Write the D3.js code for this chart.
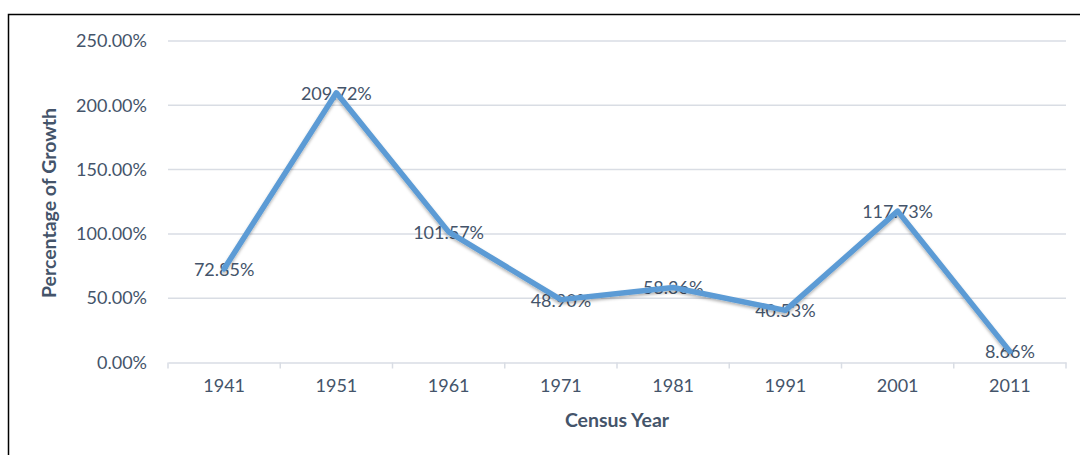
<!DOCTYPE html>
<html>
<head>
<meta charset="utf-8">
<script src="https://cdn.jsdelivr.net/npm/d3@7"></script>
<style>
  html, body { margin: 0; padding: 0; background: #fff; }
  svg { display: block; }
</style>
</head>
<body>
<div id="chart"></div>
<script>
// ── DONNÉES ───────────────────────────────────────────────────────────────
const years  = ['1941', '1951', '1961', '1971', '1981', '1991', '2001', '2011'];
const growth = [72.85, 209.72, 101.57, 48.90, 58.36, 40.53, 117.73, 8.66];
const yTicks = [0, 50, 100, 150, 200, 250];

const W = 1080, H = 455;
const M = { left: 168, right: 1066, top: 41, bottom: 362.5 };
const textCol = '#44546a';
const font = 'Lato, "Open Sans", sans-serif';

const svg = d3.select('#chart').append('svg').attr('width', W).attr('height', H);

// Cadre
svg.append('rect').attr('x', 8.5).attr('y', 14.5).attr('width', W).attr('height', H)
  .attr('fill', 'none').attr('stroke', '#000').attr('stroke-width', 1.5);

const x = d3.scaleBand().domain(years).range([M.left, M.right]);
const y = d3.scaleLinear().domain([0, 250]).range([M.bottom, M.top]);

// Grille
svg.append('g').selectAll('line').data(yTicks.filter(t => t > 0)).enter().append('line')
  .attr('x1', M.left).attr('x2', M.right)
  .attr('y1', d => y(d)).attr('y2', d => y(d))
  .attr('stroke', '#d9dde4').attr('stroke-width', 1.5);

// Axe Y (labels)
const yAxis = svg.append('g').attr('transform', `translate(${M.left},0)`)
  .call(d3.axisLeft(y).tickValues(yTicks).tickSize(0).tickPadding(21)
    .tickFormat(d => d.toFixed(2) + '%'));
yAxis.select('.domain').remove();
yAxis.selectAll('text').attr('fill', textCol).attr('font-size', '18px').attr('font-family', font);

// Axe X
const xAxis = svg.append('g').attr('transform', `translate(0,${M.bottom})`)
  .call(d3.axisBottom(x).tickSize(0).tickPadding(17));
xAxis.select('.domain').attr('stroke', '#d9dde4').attr('stroke-width', 1.5);
xAxis.selectAll('text').attr('fill', textCol).attr('font-size', '18px').attr('font-family', font);
// petites graduations entre catégories
svg.append('g').selectAll('line').data(years.concat(['end'])).enter().append('line')
  .attr('x1', (d, i) => M.left + i * x.bandwidth()).attr('x2', (d, i) => M.left + i * x.bandwidth())
  .attr('y1', M.bottom).attr('y2', M.bottom + 6)
  .attr('stroke', '#d9dde4').attr('stroke-width', 1.5);

// Titres d'axes
svg.append('text').attr('x', 617).attr('y', 427).attr('text-anchor', 'middle')
  .attr('fill', textCol).attr('font-size', '19.5px').attr('font-weight', '700').attr('font-family', font)
  .text('Census Year');
svg.append('text').attr('transform', 'translate(56,203) rotate(-90)').attr('text-anchor', 'middle')
  .attr('fill', textCol).attr('font-size', '19.5px').attr('font-weight', '700').attr('font-family', font)
  .text('Percentage of Growth');

// Étiquettes de données
svg.append('g').selectAll('text').data(growth).enter().append('text')
  .attr('x', (d, i) => x(years[i]) + x.bandwidth() / 2)
  .attr('y', d => y(d) + 7)
  .attr('text-anchor', 'middle')
  .attr('fill', textCol).attr('font-size', '18px').attr('font-family', font)
  .text(d => d.toFixed(2) + '%');

// Ombre + ligne
const defs = svg.append('defs');
const f = defs.append('filter').attr('id', 'shadow').attr('x', '-10%').attr('y', '-10%').attr('width', '120%').attr('height', '130%');
f.append('feDropShadow').attr('dx', 0).attr('dy', 2).attr('stdDeviation', 1.5)
  .attr('flood-color', '#000').attr('flood-opacity', 0.3);

const line = d3.line()
  .x((d, i) => x(years[i]) + x.bandwidth() / 2)
  .y(d => y(d));
svg.append('path').datum(growth).attr('d', line)
  .attr('fill', 'none').attr('stroke', '#5b9bd5').attr('stroke-width', 5.5)
  .attr('stroke-linejoin', 'round').attr('stroke-linecap', 'round')
  .attr('filter', 'url(#shadow)');
</script>
</body>
</html>
